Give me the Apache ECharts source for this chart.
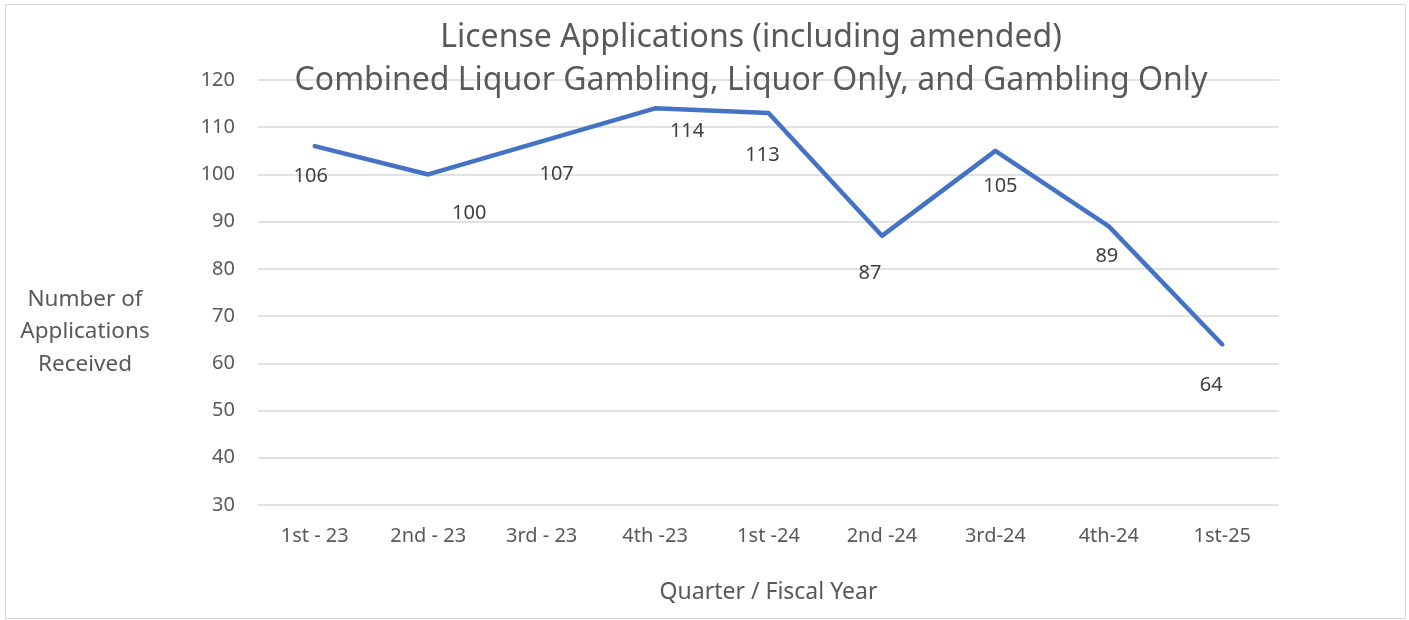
<!DOCTYPE html>
<html>
<head>
<meta charset="utf-8">
<script src="https://cdn.jsdelivr.net/npm/echarts@6/dist/echarts.min.js"></script>
<style>
    html, body { margin: 0; padding: 0; background: #fff; }
    #chart { width: 1409px; height: 620px; }
</style>
</head>
<body>
<div id="chart"></div>
<script>
// quarters / fiscal year
const quarters = ['1st - 23', '2nd - 23', '3rd - 23', '4th -23', '1st -24', '2nd -24', '3rd-24', '4th-24', '1st-25'];
// applications received
const applications = [106, 100, 107, 114, 113, 87, 105, 89, 64];
const yTicks = { min: 30, max: 120, interval: 10 };

// label nudges (px) so labels sit where the original put them
const labelNudge = [[-4, 30], [41, 39], [15, 33], [32, 23], [-6, 42], [-12, 37], [5, 35], [-2, 30], [-11, 41]];

const font = 'Noto Sans';
const grey = '#595959';

let chartDom = document.getElementById('chart');
let myChart = echarts.init(chartDom);

let option = {
    animation: false,
    title: {
        text: 'License Applications (including amended)\nCombined Liquor Gambling, Liquor Only, and Gambling Only',
        left: 746,
        top: 11,
        textAlign: 'center',
        textStyle: {
            fontFamily: font,
            fontWeight: 'normal',
            fontSize: 32,
            lineHeight: 43,
            color: grey
        }
    },
    grid: {
        left: 258,
        right: 130,
        top: 80,
        bottom: 115
    },
    xAxis: {
        type: 'category',
        data: quarters,
        boundaryGap: true,
        axisLine: { show: false },
        axisTick: { show: false },
        axisLabel: {
            fontFamily: font,
            fontSize: 20,
            color: grey,
            margin: 21
        },
        name: 'Quarter / Fiscal Year',
        nameLocation: 'middle',
        nameGap: 76,
        nameTextStyle: { fontFamily: font, fontSize: 23, color: grey }
    },
    yAxis: {
        type: 'value',
        min: yTicks.min,
        max: yTicks.max,
        interval: yTicks.interval,
        axisLine: { show: false },
        axisTick: { show: false },
        axisLabel: {
            fontFamily: font,
            fontSize: 20,
            color: grey,
            margin: 23
        },
        splitLine: { lineStyle: { color: '#d9d9d9', width: 1.5 } }
    },
    graphic: [
        {
            type: 'rect',
            shape: { x: 5.5, y: 4.5, width: 1400, height: 614 },
            style: { fill: 'none', stroke: '#d9d9d9', lineWidth: 1 },
            silent: true
        },
        {
            type: 'text',
            x: 85,
            y: 332,
            style: {
                text: 'Number of\nApplications\nReceived',
                align: 'center',
                verticalAlign: 'middle',
                fontFamily: font,
                fontSize: 22.5,
                lineHeight: 32.5,
                fill: grey
            }
        }
    ],
    series: [
        {
            type: 'line',
            data: applications.map((v, i) => ({
                value: v,
                label: { offset: labelNudge[i] }
            })),
            showSymbol: true,
            symbol: 'circle',
            symbolSize: 2,
            itemStyle: { color: 'rgba(0,0,0,0)', borderWidth: 0 },
            lineStyle: { color: '#4472C4', width: 4.5, cap: 'round', join: 'round' },
            label: {
                show: true,
                position: 'inside',
                fontFamily: font,
                fontSize: 20,
                color: '#404040'
            }
        }
    ]
};

option && myChart.setOption(option);
window.addEventListener('resize', myChart.resize);
</script>
</body>
</html>
